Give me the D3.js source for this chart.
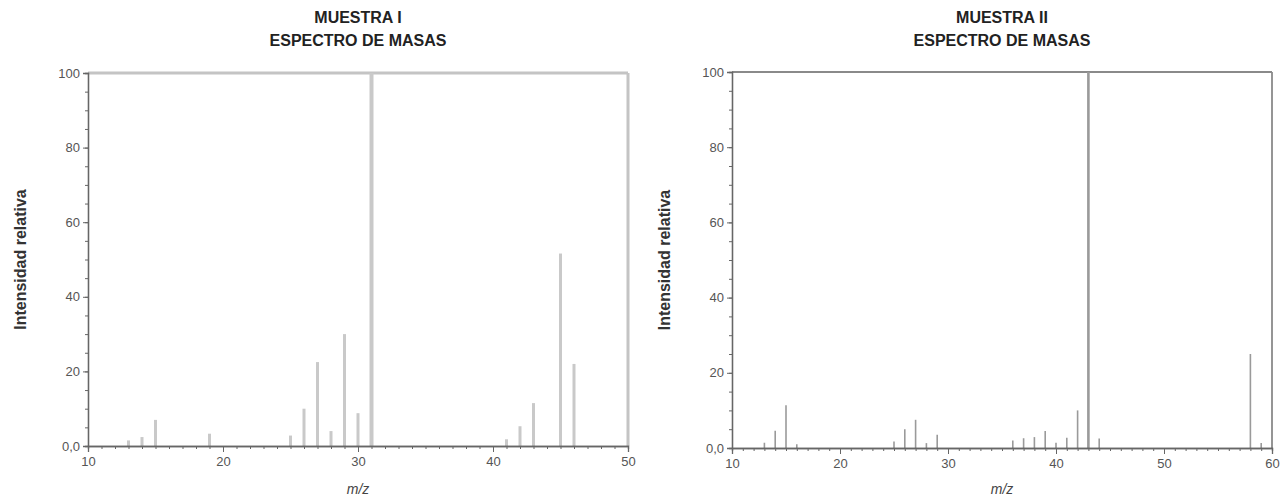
<!DOCTYPE html>
<html>
<head>
<meta charset="utf-8">
<script src="https://cdn.jsdelivr.net/npm/d3@7"></script>
<style>
  body { margin: 0; background: #fff; }
  svg { display: block; }
</style>
</head>
<body>
<div id="chart"></div>
<script>
// spectrum data
var mzI = [13, 14, 15, 19, 25, 26, 27, 28, 29, 30, 31, 41, 42, 43, 45, 46];
var intI = [1.5, 2.4, 7, 3.3, 2.8, 10, 22.5, 4, 30, 8.8, 100, 1.8, 5.3, 11.5, 51.6, 22];

var mzII = [13, 14, 15, 16, 25, 26, 27, 28, 29, 36, 37, 38, 39, 40, 41, 42, 43, 44, 58, 59];
var intII = [1.4, 4.6, 11.4, 1, 1.7, 5, 7.5, 1.3, 3.5, 2, 2.6, 2.9, 4.5, 1.4, 2.7, 10, 100, 2.5, 25, 1.3];

var yTicks = [0, 20, 40, 60, 80, 100];
var xTicksI = [10, 20, 30, 40, 50];
var xTicksII = [10, 20, 30, 40, 50, 60];

var font = "'Liberation Sans', Arial, sans-serif";
var axisColor = '#666';

var svg = d3.select('#chart').append('svg')
	.attr('width', 1283)
	.attr('height', 499);

function yFmt(d) {
	return d === 0 ? '0,0' : d;
}

function styleAxis(sel) {
	sel.selectAll('path, line').attr('stroke', axisColor);
	sel.select('.domain').attr('stroke-width', 1.3);
	sel.selectAll('text')
		.attr('fill', '#555')
		.style('font-family', font)
		.style('font-size', '12px');
}

function drawPanel(opt) {
	var x = d3.scaleLinear().domain(opt.xDomain).range([opt.left, opt.right]);
	var y = d3.scaleLinear().domain([0, 100]).range([opt.bottom, opt.top]);
	var g = svg.append('g');

	// titles
	var cx = (opt.left + opt.right) / 2;
	g.append('text')
		.attr('x', cx).attr('y', 23)
		.attr('text-anchor', 'middle')
		.style('font-family', font)
		.style('font-weight', 'bold')
		.style('font-size', '16px')
		.attr('fill', '#222')
		.text(opt.title);
	g.append('text')
		.attr('x', cx).attr('y', 46)
		.attr('text-anchor', 'middle')
		.style('font-family', font)
		.style('font-weight', 'bold')
		.style('font-size', '16px')
		.attr('fill', '#222')
		.text('ESPECTRO DE MASAS');

	// frame top / right
	g.append('line')
		.attr('x1', opt.left).attr('x2', opt.right)
		.attr('y1', opt.top).attr('y2', opt.top)
		.attr('stroke', opt.frameColor).attr('stroke-width', opt.frameWidth);
	g.append('line')
		.attr('x1', opt.right).attr('x2', opt.right)
		.attr('y1', opt.top).attr('y2', opt.bottom)
		.attr('stroke', opt.frameColor).attr('stroke-width', opt.frameWidth);

	// bars
	var data = opt.mz.map(function(m, i) { return { mz: m, v: opt.vals[i] }; });
	g.selectAll('.peak')
		.data(data)
		.enter().append('line')
		.attr('class', 'peak')
		.attr('x1', function(d) { return x(d.mz); })
		.attr('x2', function(d) { return x(d.mz); })
		.attr('y1', y(0))
		.attr('y2', function(d) { return y(d.v); })
		.attr('stroke', opt.barColor)
		.attr('stroke-width', function(d) { return d.v === 100 ? opt.barWidth + 1 : opt.barWidth; });

	// y axis: minor ticks then major ticks with labels
	var yMinor = g.append('g')
		.attr('transform', 'translate(' + opt.left + ',0)')
		.call(d3.axisLeft(y).tickValues(d3.range(0, 101, 5)).tickSize(3).tickFormat(''));
	styleAxis(yMinor);
	var yAxis = g.append('g')
		.attr('transform', 'translate(' + opt.left + ',0)')
		.call(d3.axisLeft(y).tickValues(yTicks).tickSize(5).tickFormat(yFmt));
	styleAxis(yAxis);
	yAxis.selectAll('text').style('font-size', '13px');

	// x axis: one tick per m/z unit, labels every 10
	var xMinor = g.append('g')
		.attr('transform', 'translate(0,' + opt.bottom + ')')
		.call(d3.axisBottom(x).tickValues(d3.range(opt.xDomain[0], opt.xDomain[1] + 1, 1)).tickSize(3).tickFormat(''));
	styleAxis(xMinor);
	var xAxis = g.append('g')
		.attr('transform', 'translate(0,' + opt.bottom + ')')
		.call(d3.axisBottom(x).tickValues(opt.xTicks).tickSize(6).tickPadding(5).tickFormat(d3.format('d')));
	styleAxis(xAxis);
	xAxis.selectAll('text').style('font-size', '13px');

	// axis titles
	g.append('text')
		.attr('transform', 'translate(' + (opt.left - 68) + ',' + ((opt.top + opt.bottom) / 2) + ') rotate(-90)')
		.attr('text-anchor', 'middle')
		.attr('dy', '0.35em')
		.style('font-family', font)
		.style('font-weight', 'bold')
		.style('font-size', '16px')
		.attr('fill', '#333')
		.text('Intensidad relativa');
	g.append('text')
		.attr('x', cx).attr('y', 494)
		.attr('text-anchor', 'middle')
		.style('font-family', font)
		.style('font-style', 'italic')
		.style('font-size', '14px')
		.attr('fill', '#444')
		.text('m/z');
}

drawPanel({
	title: 'MUESTRA I',
	mz: mzI, vals: intI,
	xDomain: [10, 50], xTicks: xTicksI,
	left: 88, right: 628, top: 73, bottom: 446,
	barColor: '#c9c9c9', barWidth: 3,
	frameColor: '#c4c4c4', frameWidth: 3
});

drawPanel({
	title: 'MUESTRA II',
	mz: mzII, vals: intII,
	xDomain: [10, 60], xTicks: xTicksII,
	left: 732, right: 1272, top: 72, bottom: 448,
	barColor: '#9a9a9a', barWidth: 1.6,
	frameColor: '#8a8a8a', frameWidth: 1.8
});
</script>
</body>
</html>
